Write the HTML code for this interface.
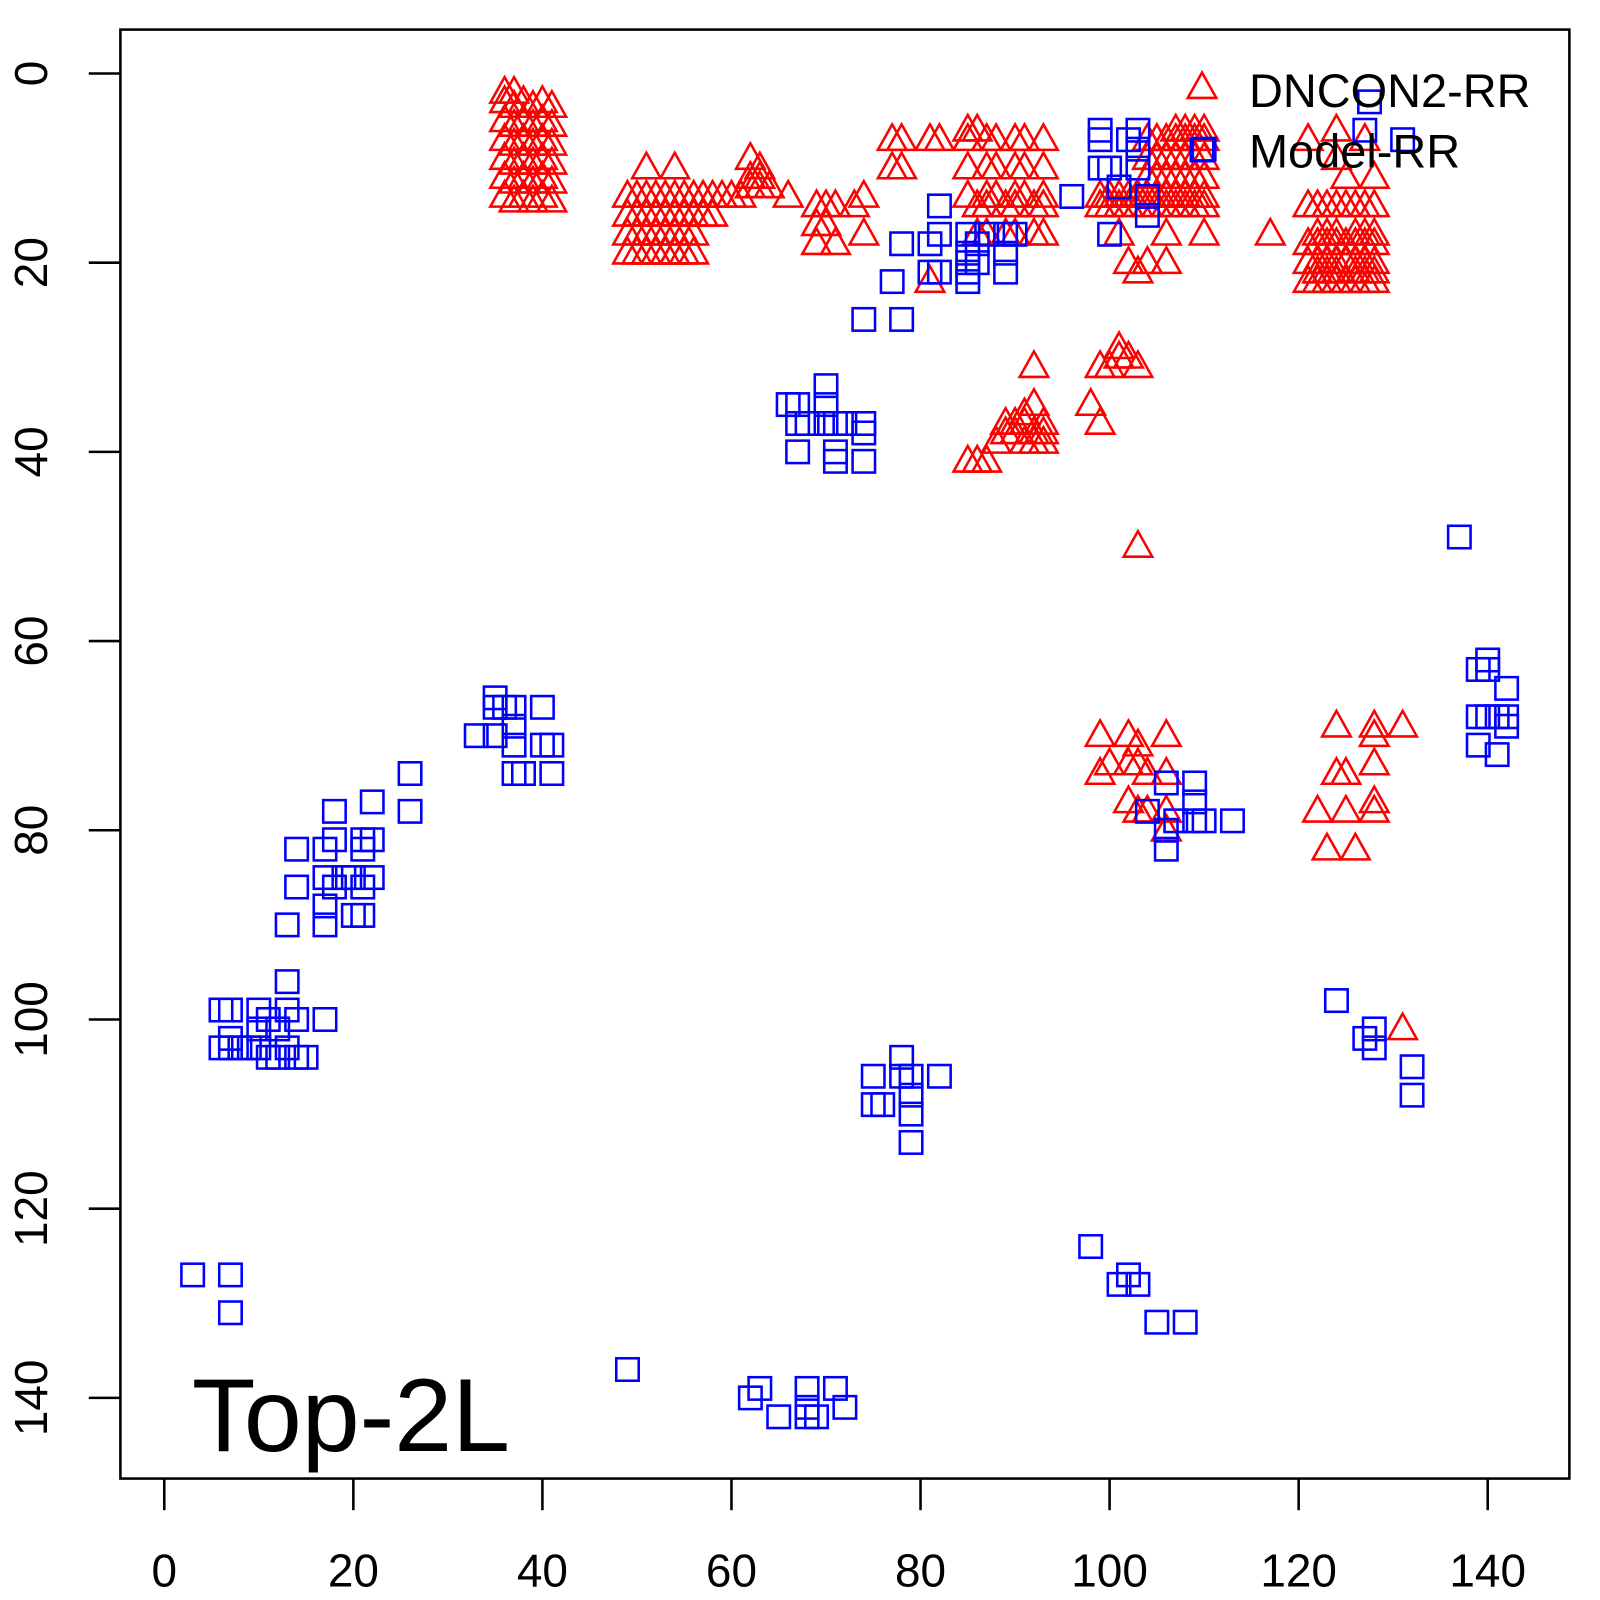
<!DOCTYPE html>
<html><head><meta charset="utf-8"><style>body{margin:0;background:#fff}svg{display:block}</style></head>
<body>
<svg width="1600" height="1600" xmlns="http://www.w3.org/2000/svg" font-family="Liberation Sans, sans-serif">
<g transform="scale(1.0204)">
<rect x="118" y="29" width="1420" height="1420" fill="none" stroke="#000" stroke-width="2.5"/>
<g id="ax" stroke="#000" stroke-width="2.5"></g>
<g id="pts" fill="none" stroke-width="2.5"></g>
<g id="lab" font-size="45" fill="#000"></g>
<polygon points="1178,71 1164,96 1192,96" fill="none" stroke="red" stroke-width="2.5"/>
<rect x="1167" y="136" width="22" height="22" fill="none" stroke="blue" stroke-width="2.5"/>
<text x="1224" y="105" font-size="46">DNCON2-RR</text>
<text x="1224" y="164" font-size="46">Model-RR</text>
<text x="188" y="1422" font-size="102">Top-2L</text>
</g>
</svg>
<script>
var NS="http://www.w3.org/2000/svg";
function X(v){return 161+v*9.264}function Y(v){return 72+v*9.271}
function el(p,t,a,txt){var e=document.createElementNS(NS,t);for(var k in a)e.setAttribute(k,a[k]);if(txt!==undefined)e.textContent=txt;document.getElementById(p).appendChild(e);}
for(var v=0;v<=140;v+=20){var x=X(v);el("ax","line",{x1:x,y1:1449,x2:x,y2:1480});el("lab","text",{x:x,y:1555,"text-anchor":"middle"},v);
var y=Y(v);el("ax","line",{x1:87,y1:y,x2:118,y2:y});el("lab","text",{x:46,y:y,"text-anchor":"middle",transform:"rotate(-90 46 "+y+")"},v);}
var T=[];
for(var a=36;a<=41;a++)[3,5,7,9,11,13].forEach(function(b){T.push([a,b+(a%2?0.5:0)])});
T.push([36,2],[37,2]);
for(var a=49;a<=58;a++)[13,15,17,19].forEach(function(b){if(a>56&&b>15)return;T.push([a,b])});
T.push([51,10],[54,10],[54,19],[59,13],[60,13],[61,13],[62,12],[63,12],[62,9],[63,10],[64,12],[66,13],[62,11],[63,11]);
T.push([69,14],[69,16],[69,18],[70,14],[70,16],[71,14],[71,18],[73,14],[74,13],[74,17],[77,7],[78,7],[77,10],[78,10],[81,7],[82,7],[81,22]);
for(var a=85;a<=93;a++)[7,10,13,14,17].forEach(function(b){if((a+b)%3==0)return;T.push([a,b])});
T.push([85,6],[86,6],[85,41],[86,41],[87,41],[88,39],[89,38],[90,37],[91,36],[92,35],[93,38],[92,31],[89,37],[90,38],[91,39],[92,38],[93,37],[91,37],[92,39],[93,39]);
T.push([98,35],[99,37],[99,31],[100,31],[101,29],[102,30],[103,31],[101,30],[103,50]);
for(var a=99;a<=110;a++)[7,9,11,13,14].forEach(function(b){if(a<104&&b<12)return;T.push([a,b])});
T.push([101,17],[102,20],[103,21],[104,20],[106,20],[106,17],[110,17],[107,6],[108,6],[109,6],[110,6],[117,17]);
for(var a=121;a<=128;a++)[14,17,18,20,21,22].forEach(function(b){if((a*b)%4==1)return;T.push([a,b])});
T.push([121,7],[124,6],[124,9],[125,11],[127,7],[128,11]);
T.push([99,70],[99,74],[100,73],[102,70],[103,71],[104,74],[102,77],[103,78],[106,70],[106,74],[106,78],[106,80],[104,78],[102,73],[103,73]);
T.push([122,78],[123,82],[124,69],[124,74],[125,74],[126,82],[125,78],[128,69],[128,73],[128,78],[131,69],[128,70],[128,77],[131,101]);
T.forEach(function(p){var x=X(p[0]),y=Y(p[1]);el("pts","polygon",{points:x+","+(y-15)+" "+(x-14)+","+(y+10)+" "+(x+14)+","+(y+10),stroke:"red"})});
var S=[[3,127],[7,127],[7,131],[6,99],[7,99],[6,103],[7,103],[7,102],[8,103],[9,103],[10,103],[10,99],[11,100],[11,104],[12,104],[13,99],[13,103],[14,100],[14,104],[15,104],[17,100],[13,96],[10,101],[12,101],
[13,90],[14,82],[14,86],[17,82],[17,85],[17,88],[17,90],[18,78],[18,81],[18,86],[19,85],[20,85],[20,89],[21,81],[21,82],[21,86],[21,89],[22,81],[22,85],[22,77],[26,74],[26,78],
[33,70],[35,66],[35,67],[35,70],[36,67],[37,67],[37,69],[37,71],[37,74],[38,74],[40,67],[40,71],[41,71],[41,74],
[49,137],[62,140],[63,139],[65,142],[68,139],[68,141],[68,142],[69,142],[71,139],[72,141],
[66,35],[67,35],[67,37],[67,40],[68,37],[70,33],[70,35],[70,37],[71,37],[71,40],[71,41],[72,37],[74,37],[74,38],[74,41],
[74,26],[78,26],[77,22],[78,18],[81,18],[81,21],[82,14],[82,17],[82,21],[85,17],[85,19],[85,20],[85,21],[85,22],[86,18],[86,20],[87,17],[89,17],[89,19],[89,21],[90,17],
[96,13],[99,6],[99,7],[99,10],[100,10],[100,17],[101,12],[102,7],[103,6],[103,8],[103,10],[104,15],[104,13],
[75,106],[75,109],[76,109],[78,104],[78,106],[79,106],[79,108],[79,110],[79,113],[82,106],
[98,124],[101,128],[102,127],[103,128],[105,132],[108,132],
[104,78],[106,75],[106,80],[106,82],[107,79],[109,75],[109,77],[109,79],[110,79],[113,79],
[124,98],[127,102],[128,101],[128,103],[132,105],[132,108],[127.5,3],[127,6],[110,8],[131,7],
[137,49],[139,63],[140,62],[140,63],[139,68],[139,71],[140,68],[141,68],[141,72],[142,65],[142,68],[142,69]];
S.forEach(function(p){var x=X(p[0]),y=Y(p[1]);el("pts","rect",{x:x-11,y:y-11,width:22,height:22,stroke:"blue"})});
</script>
</body></html>
